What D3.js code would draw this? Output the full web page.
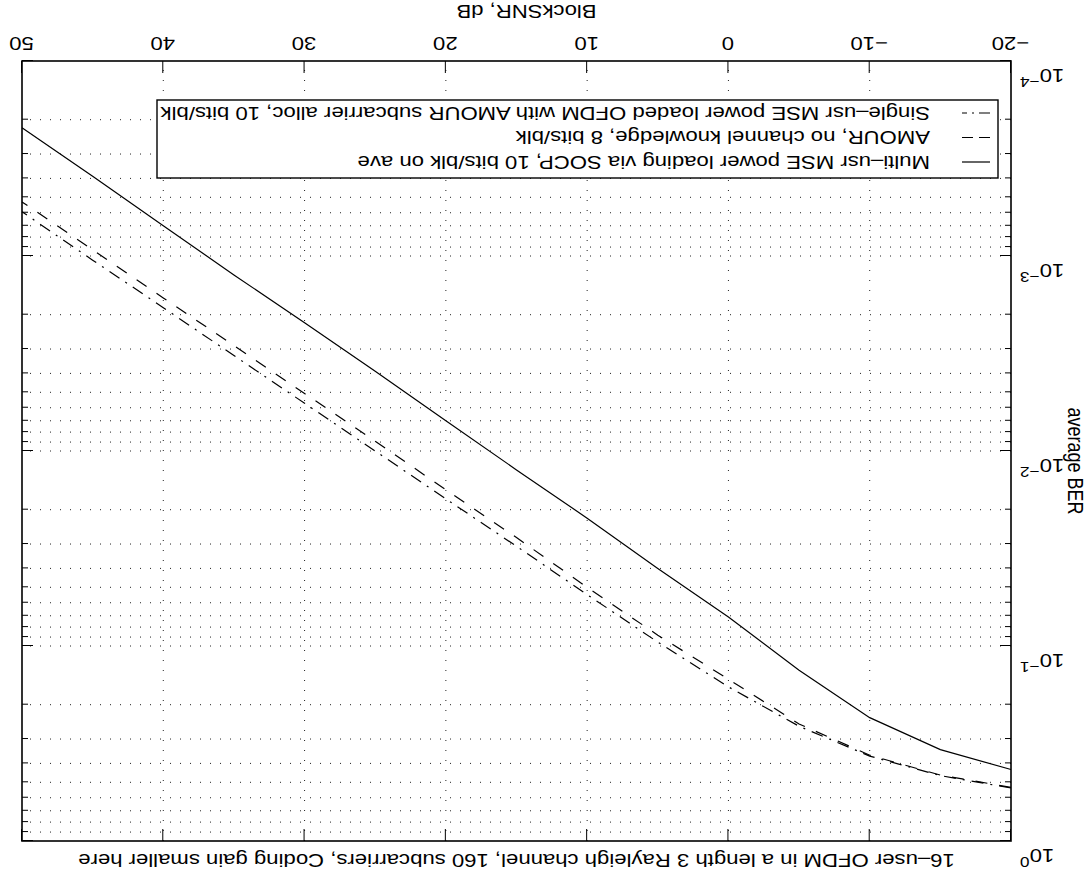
<!DOCTYPE html>
<html>
<head>
<meta charset="utf-8">
<script src="https://cdn.jsdelivr.net/npm/d3@7"></script>
<style>
  body { margin: 0; background: #fff; }
  svg { display: block; font-family: "Liberation Sans", Arial, Helvetica, sans-serif; }
</style>
</head>
<body>
<svg id="chart"></svg>
<script>
// BlockSNR (dB) sample points
var snr = [-20, -15, -10, -5, 0, 5, 10, 15, 20, 25, 30, 35, 40, 45, 50];

// average BER
var berMultiSocp   = [0.43, 0.34, 0.233, 0.133, 0.071, 0.040, 0.0221, 0.0125, 0.0070, 0.0039, 0.0022, 0.00125, 0.00070, 0.00039, 0.00022];
var berAmourNoCsi  = [0.531, 0.459, 0.363, 0.251, 0.148, 0.088, 0.050, 0.0278, 0.0158, 0.0089, 0.00507, 0.00288, 0.00164, 0.00093, 0.000528];
var berSingleAmour = [0.535, 0.462, 0.367, 0.258, 0.162, 0.0955, 0.0545, 0.0308, 0.0176, 0.0100, 0.00569, 0.00324, 0.00184, 0.00105, 0.000593];

var legendNames = [
  "Multi\u2013usr MSE power loading via SOCP, 10 bits/blk on ave",
  "AMOUR, no channel knowledge, 8 bits/blk",
  "Single\u2013usr MSE power loaded OFDM with AMOUR subcarrier alloc, 10 bits/blk"
];
var dashes = [null, "12,12", "12,7,2,7"];

var xTicks = [-20, -10, 0, 10, 20, 30, 40, 50];
var yDecades = [1e-4, 1e-3, 1e-2, 1e-1, 1];

var titleText = "16\u2013user OFDM in a length 3 Rayleigh channel, 160 subcarriers, Coding gain smaller here";
var xLabel = "BlockSNR, dB";
var yLabel = "average BER";

var W = 1089, H = 885;
var margin = {top: 44, right: 22, bottom: 61, left: 78},
    width = W - margin.left - margin.right,
    height = H - margin.top - margin.bottom;
var sx = 1.23;   // the reference glyphs are stretched sideways
var fs = 18;

var x = d3.scaleLinear().domain([-20, 50]).range([0, width]);
var y = d3.scaleLog().domain([1e-4, 1]).range([height, 0]);

var svg = d3.select("#chart").attr("width", W).attr("height", H);

// the whole figure is shown upside down
var fig = svg.append("g")
    .attr("transform", "rotate(180," + W / 2 + "," + H / 2 + ")");

var plot = fig.append("g")
    .attr("transform", "translate(" + margin.left + "," + margin.top + ")");

// grid
var yMinor = y.ticks().filter(function(d) { return d > 1.0001e-4 && d < 0.9999; });
plot.append("g")
    .selectAll("line")
    .data(yMinor)
  .enter().append("line")
    .attr("x1", 0).attr("x2", width)
    .attr("y1", function(d) { return y(d); })
    .attr("y2", function(d) { return y(d); })
    .attr("stroke", "#222")
    .attr("stroke-width", 1)
    .attr("stroke-dasharray", "1,9");

plot.append("g")
    .selectAll("line")
    .data(xTicks.slice(1, -1))
  .enter().append("line")
    .attr("x1", function(d) { return x(d); })
    .attr("x2", function(d) { return x(d); })
    .attr("y1", 0).attr("y2", height)
    .attr("stroke", "#222")
    .attr("stroke-width", 1)
    .attr("stroke-dasharray", "1,9");

// axes (ticks point inwards)
var yMajorOnly = yMinor.filter(function(d) { return yDecades.some(function(k) { return Math.abs(k - d) / k < 1e-6; }); });
var yMinorOnly = yMinor.filter(function(d) { return yMajorOnly.indexOf(d) < 0; });

function styleAxis(g) {
  g.select(".domain").remove();
  g.selectAll(".tick line").attr("stroke", "#000").attr("stroke-width", 1);
}

var xAxis = plot.append("g")
    .attr("transform", "translate(0," + height + ")")
    .call(d3.axisBottom(x).tickValues(xTicks).tickSizeInner(-12).tickSizeOuter(0).tickPadding(11))
    .call(styleAxis);
xAxis.selectAll(".tick text")
    .attr("font-size", fs)
    .attr("font-family", null)
    .attr("fill", "#000")
    .attr("transform", "scale(" + sx + ",1)");

plot.append("g")
    .call(d3.axisTop(x).tickValues(xTicks).tickSizeInner(-12).tickSizeOuter(0).tickFormat(""))
    .call(styleAxis);

[[d3.axisLeft, 0], [d3.axisRight, width]].forEach(function(a) {
  plot.append("g")
      .attr("transform", "translate(" + a[1] + ",0)")
      .call(a[0](y).tickValues(yDecades).tickSizeInner(-11).tickSizeOuter(0).tickFormat(""))
      .call(styleAxis);
  plot.append("g")
      .attr("transform", "translate(" + a[1] + ",0)")
      .call(a[0](y).tickValues(yMinorOnly).tickSizeInner(-6).tickSizeOuter(0).tickFormat(""))
      .call(styleAxis);
});

// y tick labels 10^k
var yLab = plot.append("g")
    .selectAll("text")
    .data(yDecades)
  .enter().append("text")
    .attr("transform", function(d) { return "translate(-9," + (y(d) - 8) + ") scale(" + sx + ",1)"; })
    .attr("text-anchor", "end")
    .attr("font-size", fs)
    .attr("fill", "#000");
yLab.append("tspan").text("10");
yLab.append("tspan")
    .attr("dy", -8)
    .attr("font-size", 14)
    .text(function(d) { var e = Math.round(Math.log10(d)); return e < 0 ? "\u2212" + (-e) : String(e); });

// curves
var line = d3.line()
    .x(function(d) { return x(d[0]); })
    .y(function(d) { return y(d[1]); });

[berMultiSocp, berAmourNoCsi, berSingleAmour].forEach(function(ber, i) {
  plot.append("path")
      .datum(snr.map(function(s, j) { return [s, ber[j]]; }))
      .attr("fill", "none")
      .attr("stroke", "#000")
      .attr("stroke-width", 1.2)
      .attr("stroke-dasharray", dashes[i])
      .attr("d", line);
});

// frame
plot.append("rect")
    .attr("width", width).attr("height", height)
    .attr("fill", "none")
    .attr("stroke", "#000")
    .attr("stroke-width", 1.6);

// legend
var leg = plot.append("g").attr("transform", "translate(13," + (height - 39 - 78) + ")");
leg.append("rect")
    .attr("width", 841).attr("height", 78)
    .attr("fill", "#fff")
    .attr("stroke", "#000")
    .attr("stroke-width", 1.4);
legendNames.forEach(function(name, i) {
  var cy = 16 + i * 24.5;
  leg.append("line")
      .attr("x1", 8).attr("x2", 36)
      .attr("y1", cy).attr("y2", cy)
      .attr("stroke", "#000")
      .attr("stroke-width", 1.2)
      .attr("stroke-dasharray", i === 1 ? "11,6" : (i === 2 ? "11,5,2,5" : null));
  leg.append("text")
      .attr("transform", "translate(68," + (cy + 6.5) + ") scale(" + sx + ",1)")
      .attr("font-size", fs)
      .attr("fill", "#000")
      .text(name);
});

// title and axis labels
fig.append("text")
    .attr("transform", "translate(" + (margin.left + width / 2) + ",31) scale(" + sx + ",1)")
    .attr("text-anchor", "middle")
    .attr("font-size", fs)
    .text(titleText);

fig.append("text")
    .attr("transform", "translate(" + (margin.left + width / 2 - 10) + ",880) scale(" + sx + ",1)")
    .attr("text-anchor", "middle")
    .attr("font-size", fs)
    .text(xLabel);

fig.append("text")
    .attr("transform", "translate(21," + (margin.top + height / 2 - 10) + ") scale(" + sx + ",1) rotate(-90)")
    .attr("text-anchor", "middle")
    .attr("font-size", fs)
    .text(yLabel);
</script>
</body>
</html>
